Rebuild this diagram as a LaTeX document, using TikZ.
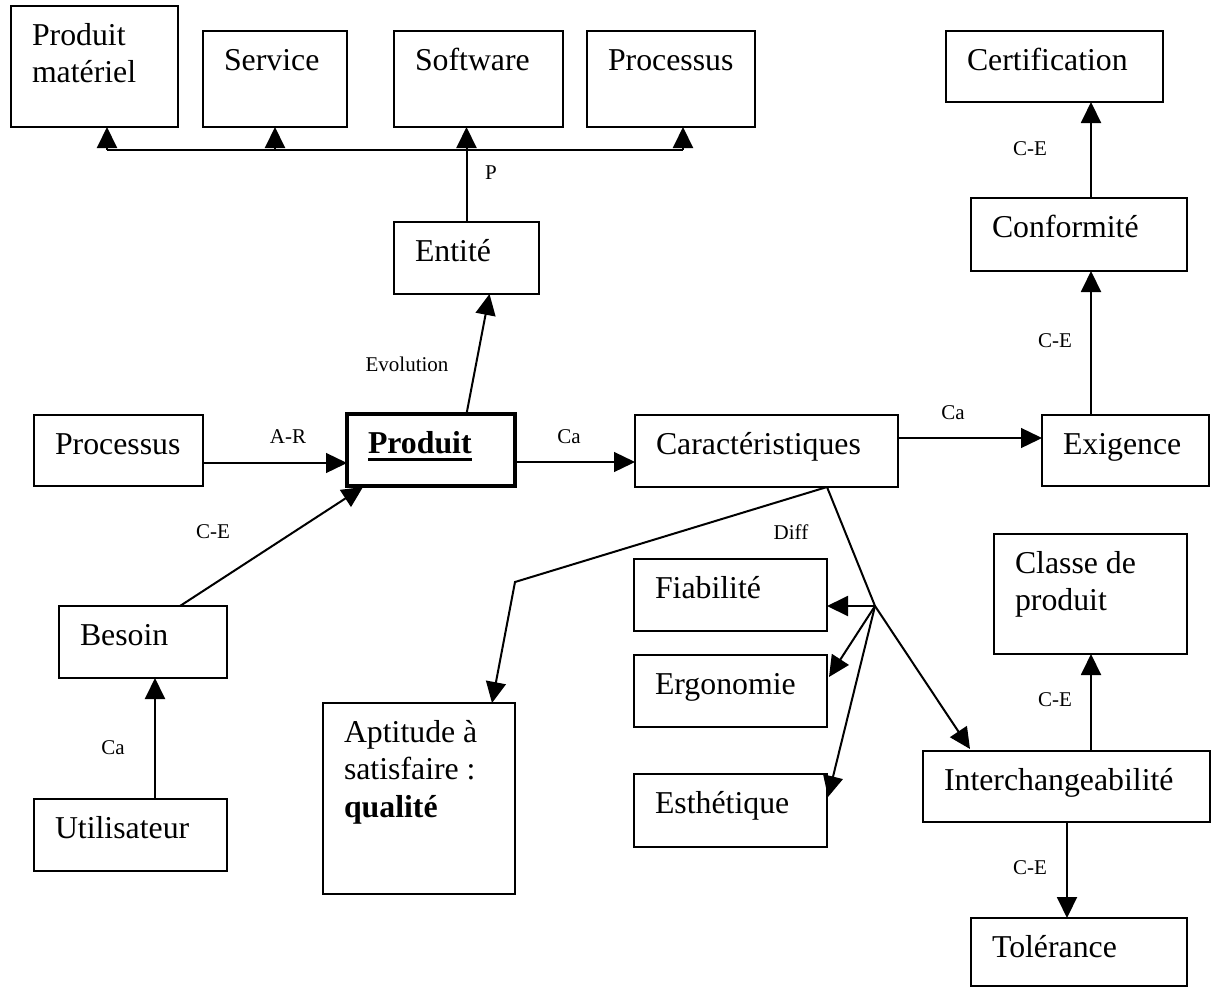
\documentclass[tikz,border=0pt]{standalone}
\usepackage{fontspec}
\setmainfont{Liberation Serif}
\usetikzlibrary{arrows.meta,calc}

% text sizes of the boxes and of the link labels
\newcommand{\bigfont}{\fontsize{31.8pt}{37.5pt}\selectfont}
\newcommand{\smallfont}{\fontsize{21pt}{25pt}\selectfont}
% box body: width, height, text set from the top-left corner
\newcommand{\boxtxt}[3]{\parbox[t][#2pt][t]{#1pt}{\leftskip=21pt\rightskip=0pt plus 1fil\parfillskip=0pt plus 1fil\hyphenpenalty=10000\rule{0pt}{39pt}#3}}
% bold word with a heavy underline
\newcommand{\ulbold}[1]{\setbox0\hbox{\textbf{#1}}\rlap{\rule[-8pt]{\wd0}{3pt}}\box0}

\begin{document}
\begin{tikzpicture}[x=1pt, y=-1pt,
  box/.style={draw, line width=2pt, inner sep=0pt, outer sep=0pt, anchor=north west, font=\bigfont},
  lbl/.style={inner sep=0pt, font=\smallfont},
  link/.style={line width=2pt},
  arr/.style={line width=2pt, -{Triangle[length=21pt,width=20pt]}},
  thinarr/.style={line width=1.3pt, -{Triangle[length=21pt,width=20pt]}}]
\useasboundingbox (0,0) rectangle (1212,988);

% ---- boxes ----
\node[box] (pm)     at (11,6)    {\boxtxt{167}{121}{Produit\\matériel}};
\node[box] (serv)   at (203,31)  {\boxtxt{144}{96}{Service}};
\node[box] (soft)   at (394,31)  {\boxtxt{169}{96}{Software}};
\node[box] (proc1)  at (587,31)  {\boxtxt{168}{96}{Processus}};
\node[box] (entite) at (394,222) {\boxtxt{145}{72}{Entité}};
\node[box] (proc2)  at (34,415)  {\boxtxt{169}{71}{Processus}};
\node[box, line width=4pt] (produit) at (347,414) {\boxtxt{168}{72}{\ulbold{Produit}}};
\node[box] (carac)  at (635,415) {\boxtxt{263}{72}{Caractéristiques}};
\node[box] (exig)   at (1042,415){\boxtxt{167}{71}{Exigence}};
\node[box] (conf)   at (971,198) {\boxtxt{216}{73}{Conformité}};
\node[box] (cert)   at (946,31)  {\boxtxt{217}{71}{Certification}};
\node[box] (besoin) at (59,606)  {\boxtxt{168}{72}{Besoin}};
\node[box] (util)   at (34,799)  {\boxtxt{193}{72}{Utilisateur}};
\node[box] (apt)    at (323,703) {\boxtxt{192}{191}{Aptitude à\\satisfaire :\\\textbf{qualité}}};
\node[box] (fiab)   at (634,559) {\boxtxt{193}{72}{Fiabilité}};
\node[box] (ergo)   at (634,655) {\boxtxt{193}{72}{Ergonomie}};
\node[box] (esth)   at (634,774) {\boxtxt{193}{73}{Esthétique}};
\node[box] (classe) at (994,534) {\boxtxt{193}{120}{Classe de\\produit}};
\node[box] (inter)  at (923,751) {\boxtxt{287}{71}{Interchangeabilité}};
\node[box] (tol)    at (971,918) {\boxtxt{216}{68}{Tolérance}};

% ---- P : entity bus to the four kinds ----
\coordinate (busL) at (107,150);
\coordinate (busR) at (683,150);
\draw[link] (entite.north) -- (entite.north |- busL);
\draw[link] (busL) -- (busR);
\draw[arr] (busL) -- (busL |- pm.south);
\draw[arr] (serv.south |- busL) -- (serv.south);
\draw[arr] (entite.north |- busL) -- (entite.north |- soft.south);
\draw[arr] (busR) -- (busR |- proc1.south);

% ---- links around the product ----
\draw[arr] (produit.north -| entite.north) -- ($(entite.south)+(23,0)$);
\draw[thinarr] ($(proc2.east)+(0,12.5)$) -- ($(produit.west)+(0,13)$);
\draw[thinarr] ($(produit.east)+(0,12)$) -- ($(carac.west)+(0,11)$);
\draw[arr] ($(besoin.north)+(37,0)$) -- ($(produit.south west)+(16,1)$);
\draw[arr] ($(util.north)+(24.5,0)$) -- ($(besoin.south)+(12,0)$);

% ---- requirement chain ----
\draw[thinarr] ($(carac.east)+(0,-13)$) -- ($(exig.west)+(0,-12.5)$);
\draw[arr] ($(exig.north west)+(49,0)$) -- ($(conf.south west)+(120,0)$);
\draw[arr] ($(conf.north west)+(120,0)$) -- ($(cert.south west)+(145,0)$);

% ---- characteristics split ----
\coordinate (bendA) at (515,582);
\coordinate (jn) at (875,606);
\draw[arr] ($(carac.south west)+(192,0)$) -- (bendA) -- ($(apt.north west)+(169,0)$);
\draw[arr] ($(carac.south west)+(192,0)$) -- (jn) -- ($(inter.north west)+(47,-2)$);
\draw[arr] (jn) -- (jn -| fiab.east);
\draw[arr] (jn) -- ($(ergo.north east)+(2,22)$);
\draw[arr] (jn) -- ($(esth.north east)+(1,23)$);

% ---- interchangeability ----
\draw[arr] ($(inter.north west)+(168,0)$) -- ($(classe.south west)+(97,0)$);
\draw[arr] ($(inter.south west)+(144,0)$) -- ($(tol.north west)+(96,0)$);

% ---- link labels ----
\node[lbl] (lP)   at (491,173)  {P};
\node[lbl] (lEvo) at (407,364)  {Evolution};
\node[lbl] (lAR)  at (288,437)  {A-R};
\node[lbl] (lCa1) at (569,437)  {Ca};
\node[lbl] (lCa2) at (953,413)  {Ca};
\node[lbl] (lCE1) at (213,532)  {C-E};
\node[lbl] (lCa3) at (113,748)  {Ca};
\node[lbl] (lDif) at (791,532)  {Diff};
\node[lbl] (lCE2) at (1055,341) {C-E};
\node[lbl] (lCE3) at (1030,149) {C-E};
\node[lbl] (lCE4) at (1055,700) {C-E};
\node[lbl] (lCE5) at (1030,868) {C-E};
\end{tikzpicture}
\end{document}
